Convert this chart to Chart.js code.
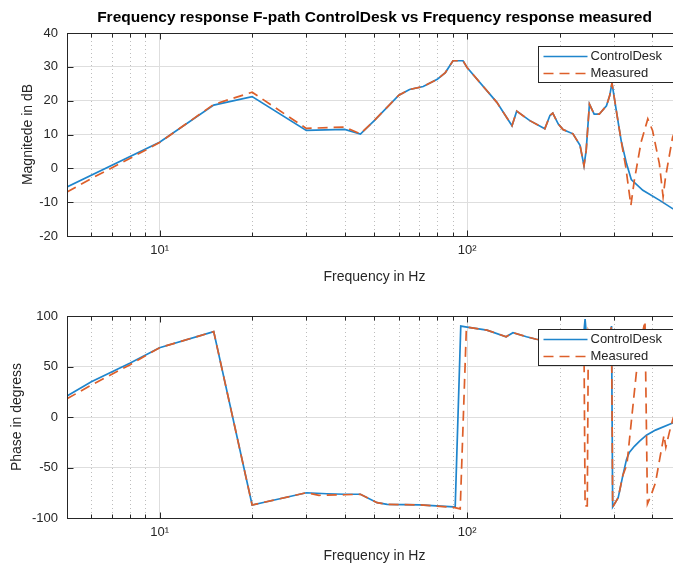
<!DOCTYPE html>
<html>
<head>
<meta charset="utf-8">
<script src="https://cdn.jsdelivr.net/npm/chart.js@4.4.1/dist/chart.umd.min.js"></script>
<style>
  html, body { margin: 0; padding: 0; background: #fff; overflow: hidden; }
  #wrap { position: relative; width: 673px; height: 567px; overflow: hidden; }
  .box { position: absolute; left: 0; }
  #magBox { top: 0; }
  #phaseBox { top: 290px; }
</style>
</head>
<body>
<div id="wrap">
  <div class="box" id="magBox"><canvas id="magChart" width="690" height="290"></canvas></div>
  <div class="box" id="phaseBox"><canvas id="phaseChart" width="690" height="277"></canvas></div>
</div>
<script>
// Frequency response F-path

const freqTicks = [5, 6, 7, 8, 9, 10, 20, 30, 40, 50, 60, 70, 80, 90, 100, 200, 300, 400, 500];
const decadeValues = [10, 100];
const decadeLabels = ['10\u00b9', '10\u00b2'];

// ControlDesk magnitude
const magCDFreq = [5, 10, 15, 20, 30, 40, 45, 50, 60, 65, 72, 80, 85, 90, 97, 100, 125, 140, 145, 160, 179, 186, 190,
  198, 205, 221, 233, 240, 244, 250, 259, 269, 284, 291, 296, 306, 317, 330, 342, 373, 422, 466, 500];
const magCD = [-5.5, 7.7, 18.7, 21.2, 11.2, 11.5, 10.1, 14.2, 21.6, 23.3, 24.2, 26.3, 28.3, 31.8, 31.8, 29.8, 19.5, 12.6, 16.9, 14.1, 11.7, 15.6, 16.3,
  13.1, 11.5, 10.2, 6.8, 0.8, 5.3, 19.0, 16.0, 16.0, 18.5, 21.5, 25.2, 16.8, 8.2, 1.4, -3.3, -6.5, -9.4, -11.9, -13.3];

// Measured magnitude
const magMeasFreq = [5, 6, 8, 10, 15, 20, 30, 40, 45, 50, 60, 65, 72, 80, 85, 90, 97, 100, 125, 140, 145, 160, 179, 186, 190,
  198, 205, 221, 233, 240, 244, 250, 259, 269, 284, 291, 296, 306, 317, 328, 341, 350, 368, 387, 401, 422, 434, 442, 466, 500];
const magMeas = [-7.0, -3.0, 2.9, 7.6, 18.9, 22.5, 11.8, 12.2, 10.2, 14.2, 21.6, 23.3, 24.2, 26.3, 28.3, 31.8, 31.8, 29.8, 19.5, 12.6, 16.9, 14.1, 11.7, 15.6, 16.3,
  13.1, 11.5, 10.2, 6.8, 0.8, 5.3, 19.0, 16.0, 16.0, 18.5, 21.5, 25.2, 16.8, 8.2, 0.5, -10.9, -3.5, 7.7, 14.6, 11.2, 1.4, -8.4, -2.6, 9.2, 16.0];

// ControlDesk phase
const phaseCDFreq = [5, 6, 8, 10, 15, 20, 30, 35, 40, 45, 51, 55, 70, 90.5, 91.5, 95.4, 100, 116, 134, 141, 156, 168, 200, 230,
  240, 242, 246, 265, 288, 295, 297.5, 310, 321, 330, 337, 350, 364, 383, 410, 466, 500];
const phaseCD = [20.8, 35, 53.2, 68.6, 84.5, -87.1, -75, -76, -76.5, -76.5, -84.8, -86.5, -87, -89, -89, 90, 89, 86, 79.5, 83.5, 79.5, 77, 73, 68,
  85, 97, 70, 62, 72, 90, -89, -80, -58, -42, -35, -29, -24, -18, -13, -6, -3];

// Measured phase
const phaseMeasFreq = [5, 6, 8, 10, 15, 20, 30, 33, 40, 45, 51, 55, 70, 90.5, 95, 99.5, 116, 134, 141, 156, 168, 200, 230,
  240, 242, 246, 248, 265, 288, 295, 297.5, 310, 321, 331, 355, 370, 379, 386, 396, 410, 424, 437, 443, 455, 466, 500];
const phaseMeas = [18, 31.7, 51.6, 68.6, 84.5, -87.1, -75, -77.5, -77, -76.5, -84.8, -86.5, -87, -89.5, -91, 89, 86, 79.5, 83.5, 79.5, 77, 73, 68,
  75, -88, -88, 85, 62, 72, 90, -89, -80, -58, -47, 43, 80, 95, -86, -78, -65, -40, -18, -30, -15, -3, 25];

const FONT = "'Liberation Sans', Helvetica, Arial, sans-serif";
const TEXT = '#262626';
const GRID = '#dedede';
const BLUE = '#1f85cc';
const ORANGE = '#dd5f2a';

function toPoints(xs, ys) {
  return xs.map((x, i) => ({x: x, y: ys[i]}));
}

// dotted minor grid, box with inward ticks and the legend, matlab style
const matlabAxes = {
  id: 'matlabAxes',
  beforeDatasetsDraw(chart) {
    const {ctx, chartArea, scales} = chart;
    ctx.save();
    ctx.strokeStyle = '#bdbdbd';
    ctx.lineWidth = 1;
    ctx.setLineDash([1, 3]);
    scales.x.ticks.forEach(t => {
      if (decadeValues.includes(t.value)) return;
      const px = Math.round(scales.x.getPixelForValue(t.value)) + 0.5;
      ctx.beginPath();
      ctx.moveTo(px, chartArea.top);
      ctx.lineTo(px, chartArea.bottom);
      ctx.stroke();
    });
    ctx.restore();
  },
  afterDatasetsDraw(chart) {
    const {ctx, chartArea, scales} = chart;
    const l = Math.round(chartArea.left) + 0.5, r = Math.round(chartArea.right) + 0.5;
    const t = Math.round(chartArea.top) + 0.5, b = Math.round(chartArea.bottom) + 0.5;
    ctx.save();
    ctx.strokeStyle = TEXT;
    ctx.lineWidth = 1;
    ctx.strokeRect(l, t, r - l, b - t);
    ctx.beginPath();
    scales.x.ticks.forEach(tk => {
      const px = Math.round(scales.x.getPixelForValue(tk.value)) + 0.5;
      const len = decadeValues.includes(tk.value) ? 6 : 4;
      ctx.moveTo(px, b); ctx.lineTo(px, b - len);
      ctx.moveTo(px, t); ctx.lineTo(px, t + len);
    });
    scales.y.ticks.forEach(tk => {
      const py = Math.round(scales.y.getPixelForValue(tk.value)) + 0.5;
      ctx.moveTo(l, py); ctx.lineTo(l + 6, py);
      ctx.moveTo(r, py); ctx.lineTo(r - 6, py);
    });
    ctx.stroke();

    // legend, northeast inside the axes
    const w = 135, h = 36;
    const lx = Math.round(chartArea.right - 9 - w) + 0.5;
    const ly = Math.round(chartArea.top + 13) + 0.5;
    ctx.fillStyle = '#fff';
    ctx.fillRect(lx, ly, w, h);
    ctx.strokeStyle = TEXT;
    ctx.strokeRect(lx, ly, w, h);
    chart.data.datasets.forEach((ds, i) => {
      const yy = ly + 10 + i * 17;
      ctx.strokeStyle = ds.borderColor;
      ctx.lineWidth = ds.borderWidth;
      ctx.setLineDash(ds.borderDash || []);
      ctx.beginPath();
      ctx.moveTo(lx + 5, yy);
      ctx.lineTo(lx + 49, yy);
      ctx.stroke();
      ctx.setLineDash([]);
      ctx.fillStyle = TEXT;
      ctx.font = '13px ' + FONT;
      ctx.textBaseline = 'middle';
      ctx.fillText(ds.label, lx + 52, yy);
    });
    ctx.restore();
  }
};

function makeChart(id, cdPoints, measPoints, yMin, yMax, yStep, yTitle, yTitlePad, xHeight, xTitlePad, topPad, title) {
  const ctx = document.getElementById(id).getContext('2d');
  return new Chart(ctx, {
    type: 'line',
    data: {
      datasets: [{
        label: 'ControlDesk',
        data: cdPoints,
        borderColor: BLUE,
        borderWidth: 1.7,
        pointRadius: 0,
        order: 1
      }, {
        label: 'Measured',
        data: measPoints,
        borderColor: ORANGE,
        borderWidth: 1.7,
        borderDash: [10, 6],
        pointRadius: 0,
        order: 0
      }]
    },
    options: {
      responsive: false,
      animation: false,
      layout: { padding: { top: topPad, right: 8, left: 0, bottom: 0 } },
      plugins: {
        legend: { display: false },
        tooltip: { enabled: false },
        title: {
          display: !!title,
          text: title,
          fullSize: false,
          color: '#000',
          font: { family: FONT, size: 15.5, weight: 'bold' },
          padding: { top: 8, bottom: 6.4 }
        }
      },
      scales: {
        x: {
          type: 'logarithmic',
          min: 5,
          max: 500,
          afterBuildTicks: s => { s.ticks = freqTicks.map(v => ({value: v})); },
          afterFit: s => { s.height = xHeight; },
          grid: {
            drawTicks: false,
            color: c => (c.tick && decadeValues.includes(c.tick.value)) ? GRID : 'rgba(0,0,0,0)'
          },
          border: { display: false },
          ticks: {
            autoSkip: false,
            maxRotation: 0,
            padding: 7,
            color: TEXT,
            font: { family: FONT, size: 13 },
            callback: v => {
              const k = decadeValues.indexOf(v);
              return k >= 0 ? decadeLabels[k] : '';
            }
          },
          title: {
            display: true,
            text: 'Frequency in Hz',
            color: TEXT,
            font: { family: FONT, size: 14 },
            padding: { top: 0, bottom: xTitlePad }
          }
        },
        y: {
          min: yMin,
          max: yMax,
          afterFit: s => { s.width = 67; },
          grid: { drawTicks: false, color: GRID },
          border: { display: false },
          ticks: {
            stepSize: yStep,
            padding: 9,
            color: TEXT,
            font: { family: FONT, size: 13 }
          },
          title: {
            display: true,
            text: yTitle,
            color: TEXT,
            font: { family: FONT, size: 14 },
            padding: { top: yTitlePad, bottom: 0 }
          }
        }
      }
    },
    plugins: [matlabAxes]
  });
}

makeChart('magChart', toPoints(magCDFreq, magCD), toPoints(magMeasFreq, magMeas),
  -20, 40, 10, 'Magnitede in dB', 19.6, 54, 4.6, 0,
  'Frequency response F-path ControlDesk vs Frequency response measured');

makeChart('phaseChart', toPoints(phaseCDFreq, phaseCD), toPoints(phaseMeasFreq, phaseMeas),
  -100, 100, 50, 'Phase in degress', 8.6, 49, 2.6, 26, '');
</script>
</body>
</html>
